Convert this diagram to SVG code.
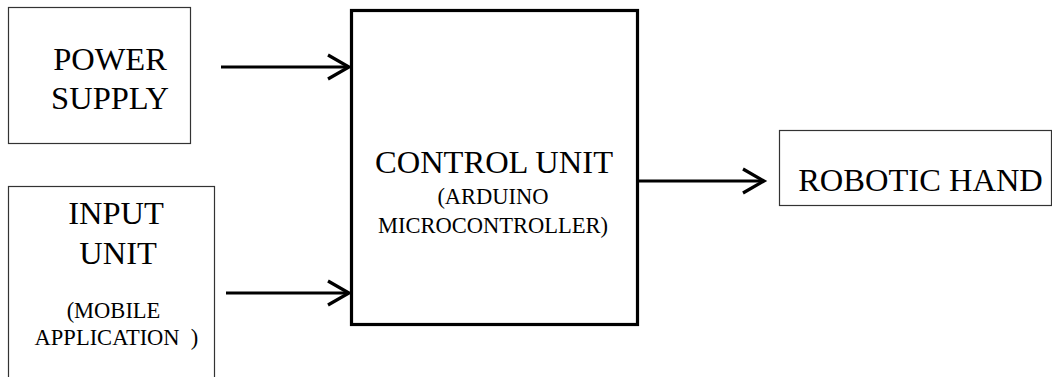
<svg xmlns="http://www.w3.org/2000/svg" width="1052" height="377" viewBox="0 0 1052 377">
<style>
.thin{fill:#fff;stroke:#333;stroke-width:1.2}
.thick{fill:#fff;stroke:#000;stroke-width:3.2}
.conn{stroke:#000;stroke-width:3.2;fill:none}
</style>
<defs>
<marker id="arr" markerUnits="userSpaceOnUse" markerWidth="30" markerHeight="30" refX="22" refY="13" orient="auto" viewBox="0 0 30 26">
<path d="M1,1 L22,13 L1,25" fill="none" stroke="#000" stroke-width="3.2"/>
</marker>
</defs>
<rect width="1052" height="377" fill="#fff"/>
<g font-family="Liberation Serif" fill="#000" text-anchor="middle">
<g id="power">
<rect class="thin" x="8.5" y="7.5" width="182" height="136"/>
<text x="110" y="70" font-size="32.5" fill="#000">POWER</text>
<text x="110" y="109" font-size="32.5" fill="#000">SUPPLY</text>
</g>
<g id="input">
<rect class="thin" x="8.5" y="186.5" width="206" height="200"/>
<text x="116" y="224" font-size="32.5" fill="#000">INPUT</text>
<text x="118" y="264" font-size="32.5" fill="#000">UNIT</text>
<text x="113.5" y="318" font-size="22.5" fill="#000">(MOBILE</text>
<text x="116.5" y="345" font-size="22.5" fill="#000" xml:space="preserve">APPLICATION  )</text>
</g>
<g id="control">
<rect class="thick" x="351.5" y="10.5" width="286" height="314"/>
<text x="494" y="173" font-size="32.5" fill="#000">CONTROL UNIT</text>
<text x="493" y="204" font-size="22.5" fill="#000">(ARDUINO</text>
<text x="493" y="233" font-size="22.5" fill="#000">MICROCONTROLLER)</text>
</g>
<g id="hand">
<rect class="thin" x="779.5" y="130.5" width="272" height="75"/>
<text x="920.5" y="191" font-size="32.5" fill="#000">ROBOTIC HAND</text>
</g>
</g>
<g id="connectors">
<line class="conn" x1="221" y1="67" x2="349" y2="67" marker-end="url(#arr)"/>
<line class="conn" x1="226" y1="293" x2="349" y2="293" marker-end="url(#arr)"/>
<line class="conn" x1="638" y1="181" x2="764" y2="181" marker-end="url(#arr)"/>
</g>
</svg>
